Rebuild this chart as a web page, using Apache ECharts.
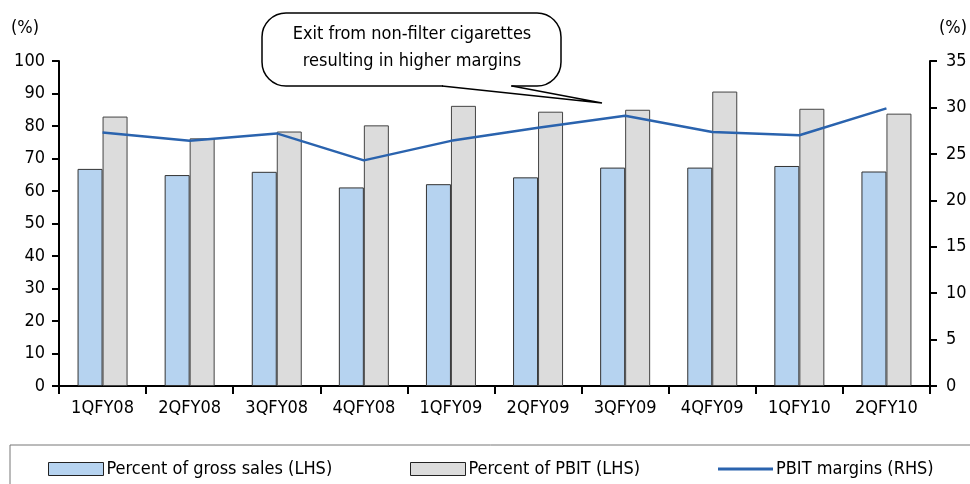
<!DOCTYPE html>
<html>
<head>
<meta charset="utf-8">
<script src="https://cdn.jsdelivr.net/npm/echarts@6/dist/echarts.min.js"></script>
<style>
  html, body { margin: 0; padding: 0; background: #fff; }
  #chart { width: 970px; height: 484px; }
</style>
</head>
<body>
<div id="chart"></div>
<script>
  // quarters
  var quarters = ['1QFY08', '2QFY08', '3QFY08', '4QFY08', '1QFY09', '2QFY09', '3QFY09', '4QFY09', '1QFY10', '2QFY10'];
  // % of gross sales (LHS)
  var grossSales = [66.8, 64.9, 65.9, 61.1, 62.1, 64.2, 67.2, 67.2, 67.7, 66.0];
  // % of PBIT (LHS)
  var pbitShare = [82.9, 76.2, 78.3, 80.2, 86.2, 84.4, 85.0, 90.6, 85.3, 83.8];
  // PBIT margins (RHS)
  var pbitMargin = [27.3, 26.4, 27.2, 24.3, 26.4, 27.8, 29.1, 27.35, 27.0, 29.9];

  var FONT = '"Liberation Sans Narrow", "Arial Narrow", "DejaVu Sans Condensed", sans-serif';
  var FS = 18;

  var chart = echarts.init(document.getElementById('chart'));
  chart.setOption({
    animation: false,
    textStyle: { fontFamily: FONT, color: '#000' },
    grid: { left: 59, right: 40, top: 61, bottom: 98 },
    xAxis: {
      type: 'category',
      data: quarters,
      axisLine: { lineStyle: { color: '#000', width: 2 } },
      axisTick: { show: true, length: 8, lineStyle: { color: '#000', width: 2 } },
      axisLabel: { interval: 0, fontSize: FS, color: '#000', margin: 13, fontFamily: FONT }
    },
    yAxis: [
      {
        type: 'value', min: 0, max: 100, interval: 10,
        axisLine: { show: true, lineStyle: { color: '#000', width: 2 } },
        axisTick: { show: true, length: 7, lineStyle: { color: '#000', width: 2 } },
        axisLabel: { fontSize: FS, color: '#000', margin: 14, fontFamily: FONT },
        splitLine: { show: false }
      },
      {
        type: 'value', min: 0, max: 35, interval: 5,
        axisLine: { show: true, lineStyle: { color: '#000', width: 2 } },
        axisTick: { show: true, length: 7, lineStyle: { color: '#000', width: 2 } },
        axisLabel: { fontSize: FS, color: '#000', margin: 16, fontFamily: FONT },
        splitLine: { show: false }
      }
    ],
    legend: [
      {
        left: 43, top: 455, itemWidth: 55, itemHeight: 13, itemGap: 0,
        data: [{ name: 'Percent of gross sales (LHS)', icon: 'rect' }],
        itemStyle: { borderColor: '#222', borderWidth: 1 },
        textStyle: { fontSize: FS, color: '#000', fontFamily: FONT, padding: [0, 0, 0, -2] }
      },
      {
        left: 405, top: 455, itemWidth: 55, itemHeight: 13, itemGap: 0,
        data: [{ name: 'Percent of PBIT (LHS)', icon: 'rect' }],
        itemStyle: { borderColor: '#222', borderWidth: 1 },
        textStyle: { fontSize: FS, color: '#000', fontFamily: FONT, padding: [0, 0, 0, -2] }
      },
      {
        left: 713, top: 455, itemWidth: 55, itemHeight: 3, itemGap: 0,
        data: [{ name: 'PBIT margins (RHS)', icon: 'rect' }],
        itemStyle: { borderWidth: 0 },
        textStyle: { fontSize: FS, color: '#000', fontFamily: FONT, padding: [0, 0, 0, -2] }
      }
    ],
    series: [
      {
        name: 'Percent of gross sales (LHS)',
        type: 'bar',
        data: grossSales,
        barWidth: 25,
        barGap: '0%',
        itemStyle: { color: '#B6D3F0', borderColor: '#333', borderWidth: 1 }
      },
      {
        name: 'Percent of PBIT (LHS)',
        type: 'bar',
        data: pbitShare,
        barWidth: 25,
        barGap: '0%',
        itemStyle: { color: '#DCDCDC', borderColor: '#444', borderWidth: 1 }
      },
      {
        name: 'PBIT margins (RHS)',
        type: 'line',
        yAxisIndex: 1,
        data: pbitMargin,
        symbol: 'none',
        lineStyle: { color: '#2A63AE', width: 2.5 },
        itemStyle: { color: '#2A63AE' },
        z: 5
      }
    ],
    graphic: [
      { type: 'text', left: 11, top: 19, style: { text: '(%)', fontSize: FS, fontFamily: FONT, fill: '#000' } },
      { type: 'text', left: 939, top: 19, style: { text: '(%)', fontSize: FS, fontFamily: FONT, fill: '#000' } },
      // callout bubble
      {
        type: 'rect', z: 10,
        shape: { x: 262, y: 13, width: 299, height: 73, r: 24 },
        style: { fill: '#fff', stroke: '#000', lineWidth: 1.5 }
      },
      {
        type: 'rect', z: 11,
        shape: { x: 443, y: 84, width: 68, height: 4 },
        style: { fill: '#fff' }
      },
      {
        type: 'polyline', z: 12,
        shape: { points: [[442, 86], [602, 103], [512, 86]] },
        style: { stroke: '#000', lineWidth: 1.5, fill: 'none' }
      },
      {
        type: 'text', x: 412, y: 21, z: 13,
        style: {
          text: 'Exit from non-filter cigarettes\nresulting in higher margins',
          fontSize: FS, lineHeight: 27, fontFamily: FONT, fill: '#000', align: 'center'
        }
      },
      {
        type: 'rect', z: -1,
        shape: { x: 10, y: 445, width: 975, height: 60 },
        style: { fill: 'none', stroke: '#777', lineWidth: 1 }
      }
    ]
  });
</script>
</body>
</html>
